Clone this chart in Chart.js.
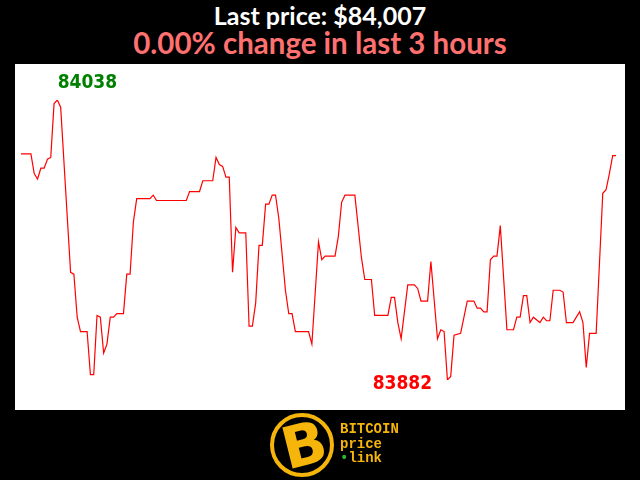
<!DOCTYPE html>
<html>
<head>
<meta charset="utf-8">
<script src="https://cdn.jsdelivr.net/npm/chart.js@4.4.0/dist/chart.umd.min.js"></script>
<style>
    body { margin: 0; background: #000; width: 640px; height: 480px; overflow: hidden; font-family: "Lato", sans-serif; }
    .title { position: absolute; left: 0; width: 640px; text-align: center; font-weight: bold; }
    #t1 { top: 0px; font-size: 25px; color: #fff; }
    #t2 { top: 25px; font-size: 29.5px; color: #ff7070; }
    #box { position: absolute; left: 15px; top: 64px; width: 610px; height: 346px; background: #fff; }
    #logo { position: absolute; left: 270px; top: 413px; width: 56px; height: 56px; border: 4px solid #f5b50a; border-radius: 50%; }
    #logo span { position: absolute; left: 8px; top: -6px; font: 900 58px "DejaVu Sans", sans-serif; color: #f5b50a; transform: rotate(-14deg); }
    #brand { position: absolute; left: 340px; top: 422px; font: bold 14px/14.5px "Liberation Mono", monospace; color: #f5b50a; }
    #brand i { font-style: normal; color: #2bb52b; }
</style>
</head>
<body>
<div class="title" id="t1">Last price: $84,007</div>
<div class="title" id="t2">0.00% change in last 3 hours</div>
<div id="box"><canvas id="priceChart"></canvas></div>
<div id="logo"><span>B</span></div>
<div id="brand">BITCOIN<br>price<br><i>&#8226;</i>link</div>
<script>
// Price per minute over the last 3 hours (only the turning points)
const minutes = [0, 3, 4, 5, 6, 7, 8, 9, 10, 11, 12, 15, 16, 17, 18, 20, 21, 22, 23, 24,
    25, 26, 27, 28, 29, 31, 32, 33, 34, 35, 39, 40, 41, 50, 51, 54, 55, 58, 59, 60,
    61, 62, 63, 64, 65, 66, 68, 69, 70, 71, 72, 73, 74, 75, 76, 77, 78, 80, 81, 82,
    83, 87, 88, 90, 91, 92, 95, 96, 97, 98, 101, 103, 104, 106, 107, 111, 112, 113, 114, 115,
    117, 119, 120, 121, 123, 124, 126, 127, 128, 129, 130, 131, 133, 135, 137, 138, 139, 140, 141, 142,
    143, 144, 145, 147, 149, 150, 151, 152, 153, 154, 155, 157, 158, 159, 160, 161, 163, 164, 165, 167,
    168, 169, 170, 171, 172, 174, 176, 177, 178, 179, 180];
const prices = [84008, 84008, 83997, 83994, 84000, 84000, 84005, 84006, 84036, 84038, 84034, 83942, 83941, 83917, 83909, 83909, 83885, 83885, 83918, 83917,
    83897, 83902, 83917, 83917, 83919, 83919, 83941, 83941, 83970, 83983, 83983, 83985, 83982, 83982, 83987, 83987, 83993, 83993, 84006, 84002,
    84001, 83995, 83995, 83942, 83967, 83964, 83964, 83912, 83912, 83925, 83957, 83957, 83980, 83980, 83985, 83985, 83972, 83932, 83919, 83919,
    83909, 83909, 83902, 83959, 83949, 83951, 83951, 83962, 83981, 83985, 83985, 83950, 83938, 83938, 83918, 83918, 83928, 83928, 83914, 83905,
    83935, 83935, 83933, 83926, 83926, 83948, 83905, 83910, 83909, 83882, 83884, 83907, 83908, 83926, 83926, 83922, 83922, 83920, 83920, 83949,
    83951, 83951, 83968, 83910, 83910, 83917, 83917, 83929, 83929, 83914, 83917, 83914, 83917, 83915, 83915, 83932, 83932, 83931, 83914, 83914,
    83917, 83920, 83914, 83889, 83908, 83908, 83986, 83988, 83997, 84007, 84007];

const highPrice = Math.max(...prices);
const lowPrice = Math.min(...prices);

// Draw high / low labels next to their points
const extremesPlugin = {
    id: 'extremes',
    afterDatasetsDraw(chart) {
        const ctx = chart.ctx;
        const x = chart.scales.x;
        const y = chart.scales.y;
        const hi = minutes[prices.indexOf(highPrice)];
        const lo = minutes[prices.indexOf(lowPrice)];
        ctx.save();
        ctx.font = 'bold 19px "DejaVu Sans Condensed", "DejaVu Sans"';
        ctx.textAlign = 'center';
        ctx.textBaseline = 'middle';
        ctx.fillStyle = '#008000';
        ctx.fillText(String(highPrice), x.getPixelForValue(hi) + 30, y.getPixelForValue(highPrice) - 17);
        ctx.fillStyle = '#ff0000';
        ctx.fillText(String(lowPrice), x.getPixelForValue(lo) - 45, y.getPixelForValue(lowPrice) + 4);
        ctx.restore();
    }
};

new Chart(document.getElementById('priceChart'), {
    type: 'line',
    data: {
        datasets: [{
            data: minutes.map((m, i) => ({ x: m, y: prices[i] })),
            borderColor: '#ff0000',
            borderWidth: 1.2,
            pointRadius: 0,
            tension: 0,
            fill: false
        }]
    },
    options: {
        responsive: true,
        maintainAspectRatio: false,
        animation: false,
        layout: { padding: { left: 6, right: 9, top: 36, bottom: 30 } },
        plugins: { legend: { display: false }, tooltip: { enabled: false } },
        scales: {
            x: { type: 'linear', min: 0, max: 180, display: false },
            y: { min: lowPrice, max: highPrice, display: false }
        }
    },
    plugins: [extremesPlugin]
});
</script>
</body>
</html>
